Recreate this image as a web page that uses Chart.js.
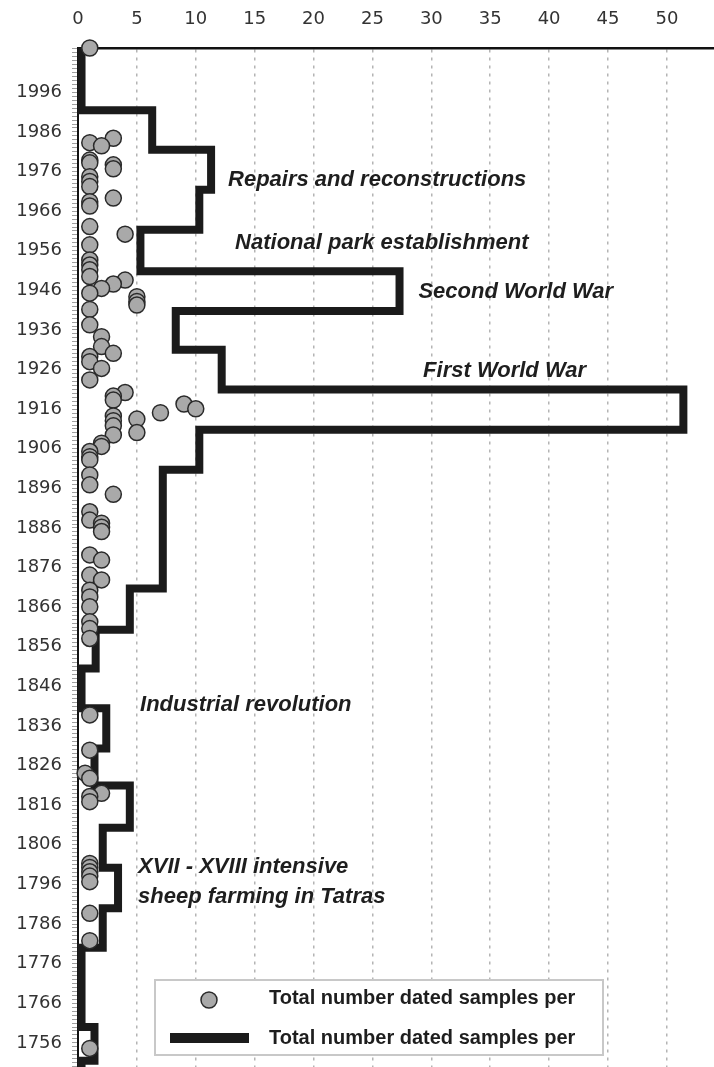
<!DOCTYPE html>
<html>
<head>
<meta charset="utf-8">
<script src="https://cdn.jsdelivr.net/npm/chart.js@4.4.1/dist/chart.umd.min.js"></script>
<style>
  html, body { margin: 0; padding: 0; background: #fff; }
  #wrap { width: 714px; height: 1067px; }
</style>
</head>
<body>
<div id="wrap"><canvas id="chart" width="714" height="1067"></canvas></div>
<script>
// Dated samples: year and number of samples
const sampleYears = [
  2007.2, 1984.4, 1983.3, 1982.5, 1978.9, 1978.2, 1977.7, 1976.7, 1974.7, 1973.5,
  1972.2, 1969.3, 1968.4, 1967.3, 1962.1, 1960.2, 1957.5, 1953.7, 1952.4, 1951.2,
  1949.5, 1948.6, 1947.6, 1946.5, 1945.3, 1944.4, 1943.2, 1942.3, 1941.2, 1937.3,
  1934.3, 1931.8, 1930.1, 1929.3, 1928.0, 1926.3, 1923.4, 1920.2, 1919.3, 1918.3,
  1917.3, 1916.1, 1915.1, 1914.3, 1913.5, 1913.1, 1911.8, 1910.1, 1909.5, 1907.4,
  1906.6, 1905.3, 1904.0, 1903.2, 1899.4, 1896.9, 1894.5, 1890.1, 1888.0, 1887.2,
  1886.2, 1885.1, 1879.2, 1877.9, 1874.1, 1872.9, 1870.3, 1868.6, 1866.1, 1862.3,
  1860.6, 1858.1, 1838.8, 1829.9, 1824.1, 1822.8, 1819.0, 1818.2, 1816.9, 1801.3,
  1800.3, 1799.2, 1798.1, 1796.7, 1788.7, 1781.8, 1754.6
];
const sampleCounts = [
  1, 3, 1, 2, 1, 1, 3, 3, 1, 1,
  1, 3, 1, 1, 1, 4, 1, 1, 1, 1,
  1, 4, 3, 2, 1, 5, 5, 5, 1, 1,
  2, 2, 3, 1, 1, 2, 1, 4, 3, 3,
  9, 10, 7, 3, 5, 3, 3, 5, 3, 2,
  2, 1, 1, 1, 1, 1, 3, 1, 1, 2,
  2, 2, 1, 2, 1, 2, 1, 1, 1, 1,
  1, 1, 1, 1, 0.6, 1, 2, 1, 1, 1,
  1, 1, 1, 1, 1, 1, 1
];

// Samples per decade: bin edges (years, top to bottom) and counts between them
const decadeEdges = [
  2007.2, 1991.5, 1981.5, 1971.4, 1961.3, 1950.8, 1940.8, 1931, 1921, 1910.8,
  1900.7, 1870.7, 1860.3, 1850.5, 1840.5, 1830.3, 1821, 1810.3, 1800.2, 1790,
  1780, 1760, 1751.5, 1749.9
];
const decadeCounts = [
  0.3, 6.3, 11.3, 10.3, 5.3, 27.3, 8.3, 12.2, 51.4, 10.3,
  7.2, 4.4, 1.5, 0.3, 2.4, 1.4, 4.4, 2.1, 3.4, 2.1,
  0.3, 1.4, 0.3
];

const xTickValues = [0, 5, 10, 15, 20, 25, 30, 35, 40, 45, 50];
const yearLabelFirst = 1756;
const yearLabelLast = 1996;

const seriesLabels = [
  "Total number dated samples per",
  "Total number dated samples per"
];

const eventLabels = [
  { text: "Repairs and reconstructions", x: 12.74, year: 1973.9 },
  { text: "National park establishment", x: 13.34, year: 1958.0 },
  { text: "Second World War", x: 28.9, year: 1945.6 },
  { text: "First World War", x: 29.3, year: 1925.6 },
  { text: "Industrial revolution", x: 5.27, year: 1841.3 },
  { text: "XVII - XVIII intensive", x: 5.1, year: 1800.4 },
  { text: "sheep farming in Tatras", x: 5.1, year: 1792.8 }
];

const points = sampleYears.map((yr, i) => ({ x: sampleCounts[i], y: yr }));

const stepPoints = [];
decadeCounts.forEach((c, i) => {
  stepPoints.push({ x: c, y: decadeEdges[i] });
  stepPoints.push({ x: c, y: decadeEdges[i + 1] });
});

const POINT_FILL = "#a9a9a9";
const POINT_EDGE = "#2a2a2a";
const LINE_COLOR = "#1b1b1b";

// event texts written inside the plot
const eventTextPlugin = {
  id: "eventText",
  afterDatasetsDraw(chart) {
    const { ctx, scales } = chart;
    ctx.save();
    ctx.font = 'italic bold 22px "Liberation Sans", Arial, sans-serif';
    ctx.fillStyle = "#1e1e1e";
    ctx.textBaseline = "middle";
    ctx.textAlign = "left";
    eventLabels.forEach(l => {
      ctx.fillText(l.text, scales.x.getPixelForValue(l.x), scales.y.getPixelForValue(l.year));
    });
    ctx.restore();
  }
};

// legend box in the lower part of the plot
const legendBoxPlugin = {
  id: "legendBox",
  afterDraw(chart) {
    const ctx = chart.ctx;
    const left = 155, top = 980, w = 448, h = 75;
    ctx.save();
    ctx.fillStyle = "#fff";
    ctx.fillRect(left, top, w, h);
    ctx.strokeStyle = "#c8c8c8";
    ctx.lineWidth = 2;
    ctx.strokeRect(left, top, w, h);

    // circle marker
    ctx.beginPath();
    ctx.arc(209, 1000, 8, 0, Math.PI * 2);
    ctx.fillStyle = POINT_FILL;
    ctx.fill();
    ctx.lineWidth = 1.5;
    ctx.strokeStyle = POINT_EDGE;
    ctx.stroke();

    // line marker
    ctx.fillStyle = LINE_COLOR;
    ctx.fillRect(170, 1033, 79, 10);

    ctx.font = 'bold 20px "Liberation Sans", Arial, sans-serif';
    ctx.fillStyle = "#1e1e1e";
    ctx.textBaseline = "middle";
    ctx.fillText(seriesLabels[0], 269, 998);
    ctx.fillText(seriesLabels[1], 269, 1038);
    ctx.restore();
  }
};

new Chart(document.getElementById("chart"), {
  type: "scatter",
  data: {
    datasets: [
      {
        label: seriesLabels[0],
        data: points,
        order: 0,
        pointRadius: 8,
        pointHoverRadius: 8,
        pointBackgroundColor: POINT_FILL,
        pointBorderColor: POINT_EDGE,
        pointBorderWidth: 1.5,
        showLine: false,
        clip: false
      },
      {
        label: seriesLabels[1],
        data: stepPoints,
        order: 1,
        showLine: true,
        borderColor: LINE_COLOR,
        borderWidth: 8,
        borderJoinStyle: "miter",
        borderCapStyle: "butt",
        pointRadius: 0,
        tension: 0,
        clip: false
      }
    ]
  },
  options: {
    responsive: false,
    animation: false,
    devicePixelRatio: 1,
    layout: { padding: 0, autoPadding: false },
    plugins: {
      legend: { display: false },
      tooltip: { enabled: false }
    },
    scales: {
      x: {
        type: "linear",
        position: "top",
        min: 0,
        max: 54,
        afterBuildTicks: s => { s.ticks = xTickValues.map(v => ({ value: v })); },
        afterFit: s => {
          s.height = 48;
          s.paddingLeft = 0;
          s.paddingRight = 0;
        },
        grid: {
          color: "#b4b4b4",
          lineWidth: 1.5,
          drawTicks: false
        },
        border: { display: true, color: "#111", width: 2.5, dash: [3, 5] },
        ticks: {
          color: "#333",
          padding: 18,
          font: { family: '"DejaVu Sans", Verdana, sans-serif', size: 18 },
          callback: v => String(v)
        }
      },
      y: {
        type: "linear",
        min: 1749.9,
        max: 2007.2,
        afterBuildTicks: s => {
          const t = [];
          for (let yr = 1750; yr <= 2007; yr++) t.push({ value: yr });
          s.ticks = t;
        },
        afterFit: s => {
          s.width = 78;
          s.paddingTop = 0;
          s.paddingBottom = 0;
        },
        grid: {
          drawOnChartArea: false,
          drawTicks: true,
          tickLength: 6,
          color: "#a0a0a0",
          lineWidth: 1
        },
        border: { display: true, color: "#111", width: 2 },
        ticks: {
          autoSkip: false,
          color: "#333",
          padding: 10,
          font: { family: '"DejaVu Sans", Verdana, sans-serif', size: 18 },
          callback: v => ((v - yearLabelFirst) % 10 === 0 && v <= yearLabelLast ? String(v) : "")
        }
      }
    }
  },
  plugins: [eventTextPlugin, legendBoxPlugin]
});
</script>
</body>
</html>
